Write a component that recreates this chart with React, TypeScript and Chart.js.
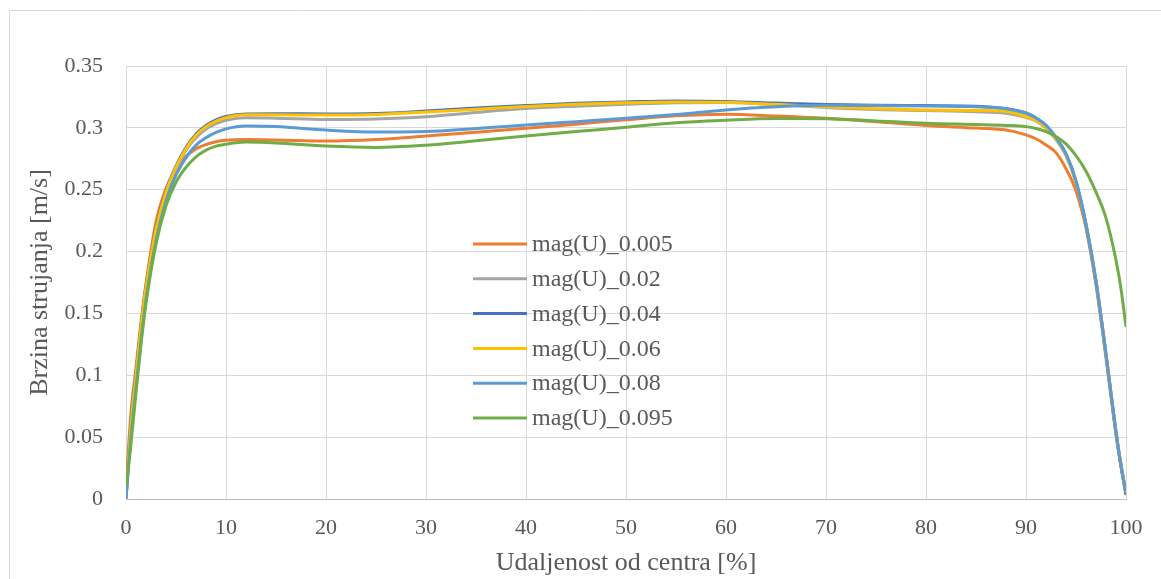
import React, { useEffect, useRef } from "react";
import { Chart, registerables } from "chart.js";

Chart.register(...registerables);

const xValues = [0, 0.5, 1, 1.5, 2, 3, 4, 5, 6, 7, 8, 9, 10, 12, 15, 20, 25, 30, 35, 40, 45, 50, 55, 60, 65, 70, 75, 80, 85, 88, 90, 91, 92, 93, 94, 95, 96, 97, 98, 99, 99.5, 100];

const seriesNames = ["mag(U)_0.005", "mag(U)_0.02", "mag(U)_0.04", "mag(U)_0.06", "mag(U)_0.08", "mag(U)_0.095"];
const seriesColors = ["#ED7D31", "#A5A5A5", "#4472C4", "#FFC000", "#5B9BD5", "#70AD47"];

const mag0005 = [0.01, 0.07, 0.106, 0.143, 0.174, 0.224, 0.251, 0.267, 0.277, 0.283, 0.2865, 0.2888, 0.29, 0.2905, 0.2902, 0.2893, 0.2905, 0.2934, 0.2965, 0.2997, 0.303, 0.3065, 0.3097, 0.311, 0.3096, 0.3077, 0.305, 0.302, 0.2998, 0.2982, 0.2943, 0.2912, 0.2862, 0.28, 0.267, 0.249, 0.219, 0.173, 0.114, 0.052, 0.026, 0.003];
const mag002 = [0, 0.06, 0.1, 0.138, 0.17, 0.217, 0.247, 0.267, 0.282, 0.292, 0.299, 0.3035, 0.3062, 0.3082, 0.3078, 0.3068, 0.3072, 0.309, 0.3125, 0.3156, 0.3175, 0.319, 0.3203, 0.3205, 0.3188, 0.3165, 0.3148, 0.314, 0.313, 0.3118, 0.3085, 0.3055, 0.2995, 0.2905, 0.2775, 0.2555, 0.2215, 0.1755, 0.1165, 0.0535, 0.0275, 0.004];
const mag004 = [0, 0.062, 0.102, 0.14, 0.172, 0.219, 0.249, 0.269, 0.284, 0.295, 0.302, 0.3065, 0.3092, 0.3113, 0.3115, 0.3112, 0.3116, 0.3136, 0.316, 0.318, 0.3198, 0.321, 0.3218, 0.3213, 0.32, 0.3188, 0.3182, 0.318, 0.3175, 0.3155, 0.312, 0.308, 0.302, 0.292, 0.279, 0.257, 0.222, 0.176, 0.117, 0.054, 0.027, 0.004];
const mag006 = [0, 0.06, 0.1, 0.139, 0.171, 0.218, 0.248, 0.268, 0.283, 0.294, 0.301, 0.3055, 0.3083, 0.3105, 0.3105, 0.3103, 0.3108, 0.3128, 0.315, 0.3172, 0.319, 0.3203, 0.321, 0.3207, 0.319, 0.3171, 0.3155, 0.3145, 0.314, 0.3132, 0.309, 0.306, 0.3, 0.291, 0.278, 0.256, 0.222, 0.176, 0.117, 0.054, 0.028, 0.005];
const mag008 = [0, 0.05, 0.09, 0.128, 0.161, 0.209, 0.241, 0.262, 0.276, 0.286, 0.292, 0.2963, 0.2992, 0.3015, 0.301, 0.2982, 0.2966, 0.297, 0.2995, 0.3023, 0.305, 0.3077, 0.3108, 0.3145, 0.317, 0.3182, 0.318, 0.3177, 0.317, 0.3155, 0.3118, 0.308, 0.302, 0.292, 0.279, 0.257, 0.222, 0.176, 0.117, 0.054, 0.027, 0.005];
const mag0095 = [0.01, 0.045, 0.086, 0.125, 0.158, 0.206, 0.237, 0.256, 0.268, 0.2765, 0.282, 0.2852, 0.2868, 0.2885, 0.2878, 0.2853, 0.2842, 0.286, 0.2895, 0.2934, 0.297, 0.3005, 0.3042, 0.3062, 0.3075, 0.3074, 0.3056, 0.3037, 0.3027, 0.302, 0.301, 0.2995, 0.297, 0.293, 0.287, 0.2775, 0.265, 0.248, 0.227, 0.193, 0.17, 0.139];

const seriesValues = [mag0005, mag002, mag004, mag006, mag008, mag0095];

const xTitle = "Udaljenost od centra [%]";
const yTitle = "Brzina strujanja [m/s]";

const FONT = "'Liberation Serif', 'Times New Roman', serif";
const TEXT = "#595959";

export default function App() {
  const ref = useRef<HTMLCanvasElement | null>(null);

  useEffect(() => {
    if (!ref.current) return;

    const borderPlugin = {
      id: "outerBorder",
      beforeDraw(chart: any) {
        const ctx = chart.ctx;
        ctx.save();
        ctx.fillStyle = "#ffffff";
        ctx.fillRect(0, 0, chart.width, chart.height);
        ctx.strokeStyle = "#D9D9D9";
        ctx.lineWidth = 1;
        ctx.beginPath();
        ctx.moveTo(9.5, chart.height);
        ctx.lineTo(9.5, 10.5);
        ctx.lineTo(chart.width, 10.5);
        ctx.stroke();
        ctx.restore();
      },
    };

    const legendPlugin = {
      id: "innerLegend",
      afterDatasetsDraw(chart: any) {
        const ctx = chart.ctx;
        ctx.save();
        ctx.font = `24px ${FONT}`;
        ctx.textBaseline = "middle";
        ctx.textAlign = "left";
        seriesNames.forEach((name, i) => {
          const y = 244 + i * 34.8;
          ctx.strokeStyle = seriesColors[i];
          ctx.lineWidth = 3;
          ctx.beginPath();
          ctx.moveTo(473, y);
          ctx.lineTo(527, y);
          ctx.stroke();
          ctx.fillStyle = TEXT;
          ctx.fillText(name, 532, y + 1);
        });
        ctx.restore();
      },
    };

    const chart = new Chart(ref.current, {
      type: "line",
      data: {
        datasets: seriesNames.map((name, i) => ({
          label: name,
          data: xValues.map((x, j) => ({ x, y: seriesValues[i][j] })),
          borderColor: seriesColors[i],
          backgroundColor: seriesColors[i],
          borderWidth: 3,
          pointRadius: 0,
          fill: false,
          cubicInterpolationMode: "monotone" as const,
          order: seriesNames.length - i,
        })),
      },
      options: {
        animation: false,
        responsive: false,
        devicePixelRatio: 1,
        layout: { padding: { left: 0, top: 66, right: 35, bottom: 0 } },
        plugins: {
          legend: { display: false },
          tooltip: { enabled: false },
        },
        scales: {
          x: {
            type: "linear",
            min: 0,
            max: 100,
            ticks: {
              stepSize: 10,
              color: TEXT,
              font: { family: FONT, size: 22 },
              padding: 16,
            },
            grid: { color: "#D9D9D9", lineWidth: 1, drawTicks: false, tickLength: 0 },
            border: { color: "#BFBFBF", width: 1 },
            title: {
              display: true,
              text: xTitle,
              color: TEXT,
              font: { family: FONT, size: 26 },
              padding: { top: 0, bottom: 0 },
            },
            afterFit(scale: any) {
              scale.height = 80;
            },
          },
          y: {
            type: "linear",
            min: 0,
            max: 0.35,
            ticks: {
              stepSize: 0.05,
              color: TEXT,
              font: { family: FONT, size: 22 },
              padding: 23,
              callback: (v: any) => String(Number(Number(v).toFixed(2))),
            },
            grid: { color: "#D9D9D9", lineWidth: 1, drawTicks: false, tickLength: 0 },
            border: { color: "#D9D9D9", width: 1 },
            title: {
              display: true,
              text: yTitle,
              color: TEXT,
              font: { family: FONT, size: 26 },
              padding: { top: 25, bottom: 0 },
            },
            afterFit(scale: any) {
              scale.width = 126;
            },
          },
        },
      },
      plugins: [borderPlugin, legendPlugin],
    });

    return () => chart.destroy();
  }, []);

  return (
    <div style={{ position: "fixed", left: 0, top: 0, width: 1161, height: 579, overflow: "hidden" }}>
      <canvas ref={ref} width={1161} height={579} style={{ display: "block" }} />
    </div>
  );
}
